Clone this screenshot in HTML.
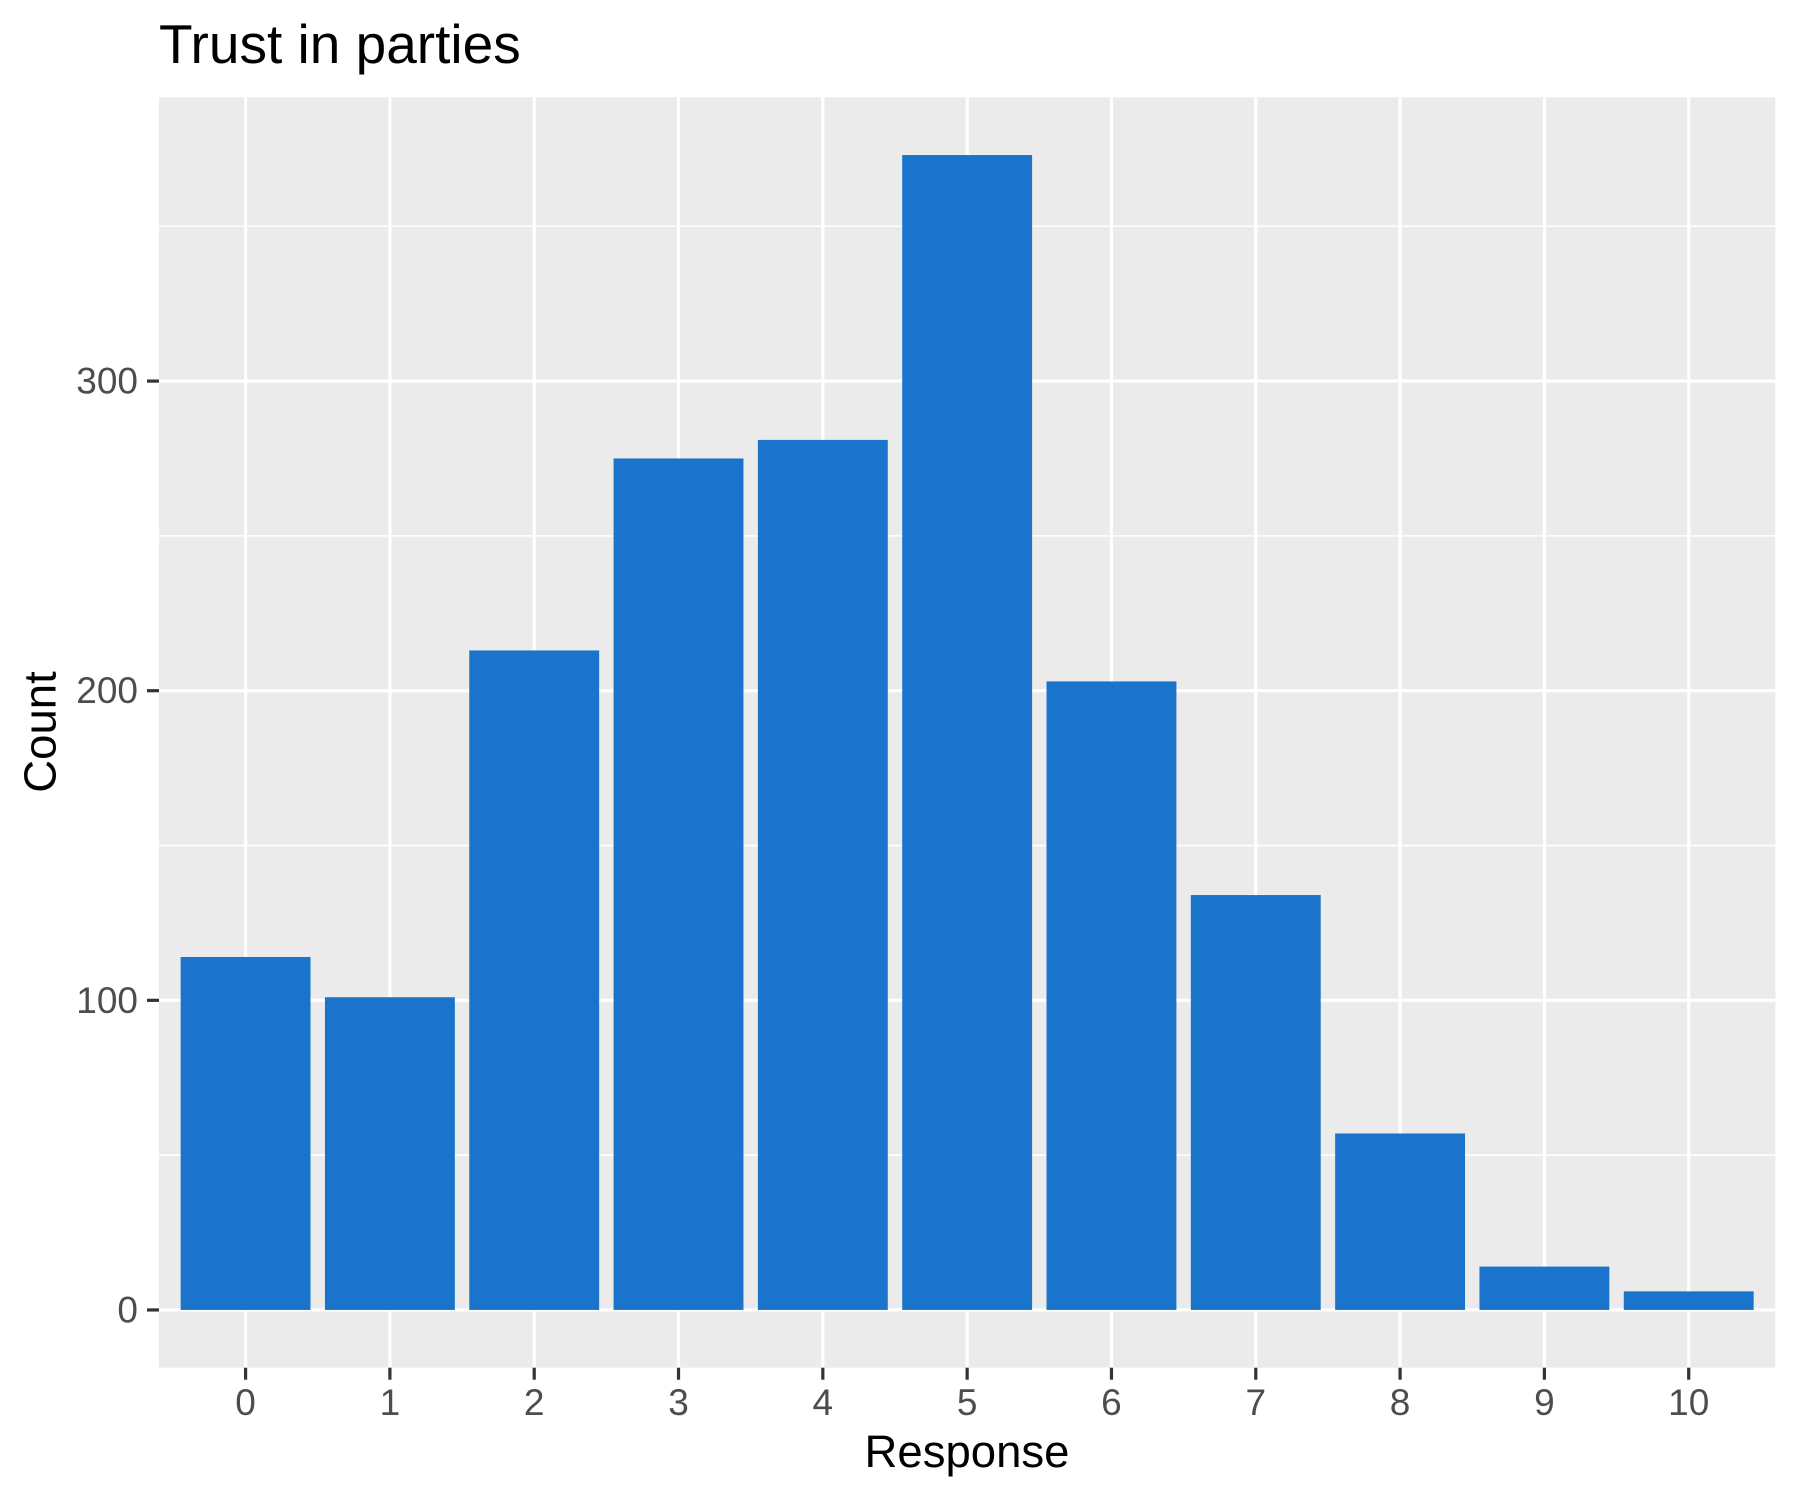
<!DOCTYPE html>
<html><head><meta charset="utf-8"><style>
html,body{margin:0;padding:0;background:#fff}
svg{display:block;font-family:"Liberation Sans",Arial,sans-serif}
</style></head><body>
<svg id="chart" width="1800" height="1500" viewBox="0 0 1800 1500">
<rect x="0" y="0" width="1800" height="1500" fill="#fff"/>
<text x="159" y="63" font-size="55" fill="#000">Trust in parties</text>
<rect x="159" y="97.3" width="1616.3" height="1270.4" fill="#ebebeb"/>
<g id="grid"></g><g id="bars"></g><g id="axes"></g>
<text x="967" y="1467" font-size="45.5" text-anchor="middle" fill="#000">Response</text>
<text transform="translate(40,732) rotate(-90)" font-size="45.5" text-anchor="middle" dominant-baseline="central" fill="#000">Count</text>
</svg>
<script>
const categories = ["0","1","2","3","4","5","6","7","8","9","10"];
const counts = [114,101,213,275,281,373,203,134,57,14,6];
const yTicks = [0,100,200,300];
const yMinor = [50,150,250,350];
const NS="http://www.w3.org/2000/svg";
const L=159,R=1775.3,T=97.3,B=1367.7;
const xmin=-0.6,xmax=categories.length-1+0.6,ymin=-18.65,ymax=391.65;
function xs(v){return L+(v-xmin)/(xmax-xmin)*(R-L);}
function ys(v){return B-(v-ymin)/(ymax-ymin)*(B-T);}
function mk(tag,attrs,parent){const e=document.createElementNS(NS,tag);for(const k in attrs)e.setAttribute(k,attrs[k]);parent.appendChild(e);return e;}
const grid=document.getElementById('grid'),bars=document.getElementById('bars'),axes=document.getElementById('axes');
yMinor.forEach(v=>{const l=mk('line',{x1:L,x2:R,y1:ys(v),y2:ys(v),stroke:'#fff','stroke-width':1.6},grid);

});
yTicks.forEach(v=>{const l=mk('line',{x1:L,x2:R,y1:ys(v),y2:ys(v),stroke:'#fff','stroke-width':3.2},grid);


const t=mk('line',{x1:147,x2:L,y1:ys(v),y2:ys(v),stroke:'#333','stroke-width':3.2},axes);


const tx=mk('text',{x:138,y:ys(v),'font-size':37,fill:'#4d4d4d','text-anchor':'end','dominant-baseline':'central'},axes);tx.textContent=v;

});
categories.forEach((c,i)=>{const x=xs(i);
const l=mk('line',{x1:x,x2:x,y1:T,y2:B,stroke:'#fff','stroke-width':3.2},grid);


const r=mk('rect',{x:xs(i-0.45),width:xs(i+0.45)-xs(i-0.45),y:ys(counts[i]),height:ys(0)-ys(counts[i]),fill:'#1a74cc'},bars);


const t=mk('line',{x1:x,x2:x,y1:B,y2:B+12,stroke:'#333','stroke-width':3.2},axes);


const tx=mk('text',{x:x,y:1415,'font-size':37,fill:'#4d4d4d','text-anchor':'middle'},axes);tx.textContent=c;

});
</script>
</body></html>
